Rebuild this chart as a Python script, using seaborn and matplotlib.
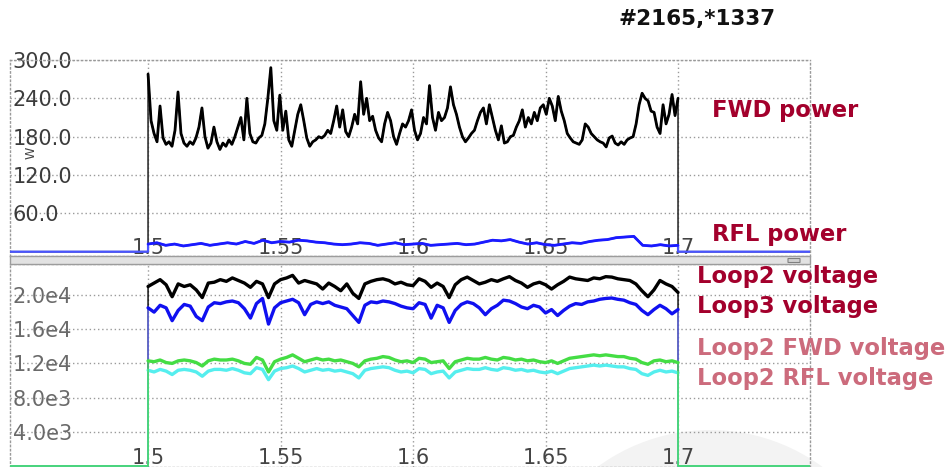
import numpy as np
import matplotlib
matplotlib.use("Agg")
import matplotlib.pyplot as plt
import seaborn as sns
from matplotlib.patches import Rectangle, Ellipse, FancyBboxPatch

# ---------------- data ----------------
title = "#2165,*1337"
record_start, record_end = 1.5, 1.7
x_ticks = [1.5, 1.55, 1.6, 1.65, 1.7]
x_tick_labels = ["1.5", "1.55", "1.6", "1.65", "1.7"]
power_ticks = [60, 120, 180, 240, 300]
power_tick_labels = ["60.0", "120.0", "180.0", "240.0", "300.0"]
volt_ticks = [4000, 8000, 12000, 16000, 20000]
volt_tick_labels = ["4.0e3", "8.0e3", "1.2e4", "1.6e4", "2.0e4"]

fwd_power = [
    278, 205, 185, 172, 228, 178, 168, 172, 165, 190,
    250, 185, 170, 165, 172, 168, 178, 195, 225, 180,
    162, 170, 195, 172, 160, 170, 165, 175, 168, 180,
    195, 210, 175, 240, 185, 172, 170, 178, 182, 200,
    240, 288, 205, 190, 245, 190, 220, 175, 165, 190,
    215, 230, 205, 178, 165, 172, 175, 180, 178, 182,
    190, 185, 205, 228, 195, 222, 188, 180, 195, 215,
    200, 266, 215, 240, 205, 212, 190, 178, 172, 200,
    218, 205, 180, 168, 185, 200, 195, 205, 222, 190,
    175, 185, 210, 200, 260, 210, 190, 218, 205, 210,
    225, 258, 230, 215, 195, 180, 172, 178, 185, 190,
    205, 218, 225, 200, 230, 210, 190, 175, 197, 170,
    172, 180, 182, 195, 205, 222, 195, 210, 200, 218,
    205, 225, 230, 215, 240, 228, 205, 243, 220, 205,
    185, 178, 172, 170, 168, 175, 200, 195, 185, 180,
    175, 172, 170, 164, 178, 181, 170, 167, 172, 168,
    175, 178, 180, 200, 230, 248, 240, 236, 220, 218,
    195, 185, 230, 200, 215, 246, 213, 240]

rfl_power = [
    12, 14, 10, 12, 9, 11, 13, 10, 12, 14,
    12, 16, 13, 18, 14, 16, 15, 18, 17, 15,
    14, 12, 11, 12, 14, 13, 10, 12, 14, 11,
    12, 13, 10, 11, 12, 13, 11, 12, 15, 18,
    17, 19, 15, 12, 14, 11, 10, 12, 14, 13,
    16, 18, 19, 22, 23, 24, 10, 9, 11, 9, 10]

loop2_voltage = [
    21000, 21400, 21800, 21200, 19800, 21300, 21000, 21200, 20600, 19700,
    21400, 21500, 21800, 21600, 22000, 21700, 21400, 20900, 21600, 21300,
    19700, 21300, 21800, 22000, 22300, 21400, 21700, 21500, 21300, 20700,
    21400, 21000, 20500, 21300, 20200, 19600, 21300, 21600, 21800, 21900,
    21700, 21300, 21500, 21200, 21100, 21900, 21600, 20900, 21400, 21000,
    19700, 21200, 21800, 22100, 21700, 21300, 21500, 21800, 21600, 21900,
    22150, 21700, 21400, 20900, 21300, 21500, 21200, 20700, 21200, 21600,
    22100, 21900, 21800, 21700, 22000, 21900, 22150, 22100, 21900, 21800,
    21700, 21300, 20500, 19800, 20600, 21700, 21300, 21000, 20300]

loop3_voltage = [
    18500, 18000, 18800, 18500, 17000, 18200, 18900, 18700, 17500, 17000,
    18600, 19100, 19000, 19200, 19300, 19100, 18400, 17300, 19000, 19600,
    16600, 18500, 19100, 19300, 19500, 19100, 17700, 18900, 19200, 19000,
    19200, 18800, 18600, 18400, 17600, 16800, 18800, 19200, 19100, 19300,
    19200, 19000, 18700, 18500, 18400, 19100, 18900, 17300, 18800, 18500,
    16800, 18200, 18900, 19200, 19000, 18500, 17700, 18400, 18800, 19400,
    19300, 19000, 18600, 18400, 18800, 18600, 17900, 18300, 17600, 18200,
    18700, 19000, 18900, 19200, 19300, 19500, 19600, 19650, 19500, 19400,
    19100, 18900, 18200, 17700, 18300, 18800, 18400, 17800, 18300]

loop2_fwd_voltage = [
    12300, 12200, 12400, 12100, 12000, 12300, 12400, 12300, 12100, 11700,
    12300, 12500, 12400, 12400, 12500, 12300, 12000, 11900, 12700, 12400,
    11000, 12200, 12500, 12700, 13000, 12600, 12200, 12400, 12600, 12400,
    12500, 12300, 12400, 12200, 12000, 11600, 12300, 12500, 12600, 12800,
    12700, 12400, 12200, 12300, 12100, 12600, 12500, 12100, 12200, 12300,
    11400, 12200, 12400, 12600, 12500, 12500, 12700, 12500, 12400, 12700,
    12600, 12400, 12500, 12300, 12400, 12200, 12100, 12300, 12000, 12300,
    12600, 12700, 12800, 12900, 13000, 12900, 13000, 12900, 12800, 12800,
    12600, 12500, 12100, 11900, 12300, 12400, 12200, 12300, 12100]

loop2_rfl_voltage = [
    11200, 11000, 11300, 11100, 10700, 11200, 11300, 11200, 11000, 10500,
    11100, 11300, 11300, 11200, 11400, 11200, 10900, 10800, 11500, 11300,
    10100, 11100, 11400, 11500, 11700, 11400, 11000, 11200, 11400, 11200,
    11300, 11100, 11200, 11000, 10800, 10300, 11200, 11400, 11500, 11600,
    11500, 11200, 11000, 11100, 10900, 11400, 11300, 10800, 11000, 11100,
    10300, 11000, 11200, 11400, 11300, 11300, 11500, 11300, 11200, 11500,
    11400, 11200, 11300, 11100, 11200, 11000, 10900, 11100, 10800, 11100,
    11400, 11500, 11600, 11700, 11800, 11700, 11800, 11700, 11600, 11600,
    11400, 11300, 10800, 10600, 11000, 11200, 11000, 11100, 10900]

# ---------------- styling ----------------
sns.set_theme(style="white")
plt.rcParams['font.family'] = ['DejaVu Sans']

W, H = 952, 467
fig = plt.figure(figsize=(W / 100, H / 100), dpi=100, facecolor="white")


def rect(x0, y0, x1, y1):
    return [x0 / W, 1 - y1 / H, (x1 - x0) / W, (y1 - y0) / H]


# faint watermark in lower right
fig.add_artist(Ellipse((710 / W, 1 - 620 / H), 380 / W, 380 / H,
                       transform=fig.transFigure, facecolor="#f3f3f3",
                       edgecolor="none", zorder=-5))

ax1 = fig.add_axes(rect(10, 60, 810, 256))
ax2 = fig.add_axes(rect(10, 264, 810, 467))

VIEW = (1.4479, 1.7498)
PAD_X = (1.40, 1.80)


def trace(ax, values, color, lw, z, edge_color=None, edge_lw=1.0):
    vals = np.asarray(values, float)
    t = np.linspace(record_start, record_end, len(vals))
    # zero signal outside the record window, thin edges
    xe = np.concatenate([[PAD_X[0], record_start], t, [record_end, PAD_X[1]]])
    ye = np.concatenate([[0, 0], vals, [0, 0]])
    sns.lineplot(x=xe, y=ye, ax=ax, color=edge_color or color, lw=edge_lw,
                 estimator=None, sort=False, zorder=z)
    # the recorded signal itself
    sns.lineplot(x=t, y=vals, ax=ax, color=color, lw=lw, estimator=None,
                 sort=False, zorder=z + 0.5)


trace(ax1, fwd_power, "#000000", 2.0, 3, edge_color="#333333", edge_lw=1.2)
trace(ax1, rfl_power, "#1a1aff", 2.0, 4, edge_color="#4a55ff", edge_lw=1.6)

trace(ax2, loop2_voltage, "#000000", 2.4, 3)
trace(ax2, loop3_voltage, "#1010f0", 2.4, 4, edge_color="#6f78ff")
trace(ax2, loop2_rfl_voltage, "#55eeee", 2.4, 5)
trace(ax2, loop2_fwd_voltage, "#44dd44", 2.4, 6, edge_lw=0.9)

grid_kw = dict(color="#9a9a9a", lw=1.0, ls=(0, (1, 2)))
for ax, ticks, labels, ylim, ycol, xpad in (
        (ax1, power_ticks, power_tick_labels, (-6.7, 300), "#3c3c3c", -13),
        (ax2, volt_ticks, volt_tick_labels, (-117, 23630), "#6a6a6a", -13.7)):
    ax.set_facecolor((1, 1, 1, 0))
    ax.set_xlim(*VIEW)
    ax.set_ylim(*ylim)
    ax.set_xticks(x_ticks)
    ax.set_xticklabels(x_tick_labels)
    ax.set_yticks(ticks)
    ax.set_yticklabels(labels)
    ax.set_xlabel("")
    ax.set_ylabel("")
    ax.grid(True, **grid_kw)
    ax.set_axisbelow(True)
    ax.tick_params(axis="y", direction="in", length=0, pad=-2,
                   labelsize=15, labelcolor=ycol)
    ax.tick_params(axis="x", direction="in", length=0, pad=xpad,
                   labelsize=15, labelcolor="#444444")
    plt.setp(ax.get_yticklabels(), ha="left")
    for sp in ax.spines.values():
        sp.set_color("#9a9a9a")
        sp.set_linestyle((0, (1, 2)))
        sp.set_linewidth(1.0)

# small rotated unit mark near the power axis
fig.text(31 / W, 1 - 153 / H, "W", rotation=90, fontsize=9, color="#444444",
         ha="center", va="center")

# splitter bar between the panels
fig.add_artist(Rectangle((10 / W, 1 - 264 / H), 800 / W, 8 / H,
                         transform=fig.transFigure, facecolor="#e2e2e2",
                         edgecolor="#9c9c9c", lw=1.0, zorder=10))
fig.add_artist(FancyBboxPatch((788 / W, 1 - 262.5 / H), 12 / W, 4 / H,
                              boxstyle="round,pad=0", transform=fig.transFigure,
                              facecolor="#d0d0d0", edgecolor="#808080",
                              lw=0.8, zorder=11))

# title and signal names
fig.text(618 / W, 1 - 19 / H, title, fontsize=15.5, fontweight="bold",
         color="#111111", ha="left", va="center")
dark_red, pink = "#a3002c", "#cc6b7c"
labels_right = [
    ("FWD power", 712, 110, dark_red),
    ("RFL power", 712, 235, dark_red),
    ("Loop2 voltage", 697, 277, dark_red),
    ("Loop3 voltage", 697, 307, dark_red),
    ("Loop2 FWD voltage", 697, 348, pink),
    ("Loop2 RFL voltage", 697, 378, pink),
]
for txt, px, py, col in labels_right:
    fig.text(px / W, 1 - py / H, txt, fontsize=16.3, fontweight="bold",
             color=col, ha="left", va="center")

fig.savefig("out.png", dpi=100, facecolor="white")
